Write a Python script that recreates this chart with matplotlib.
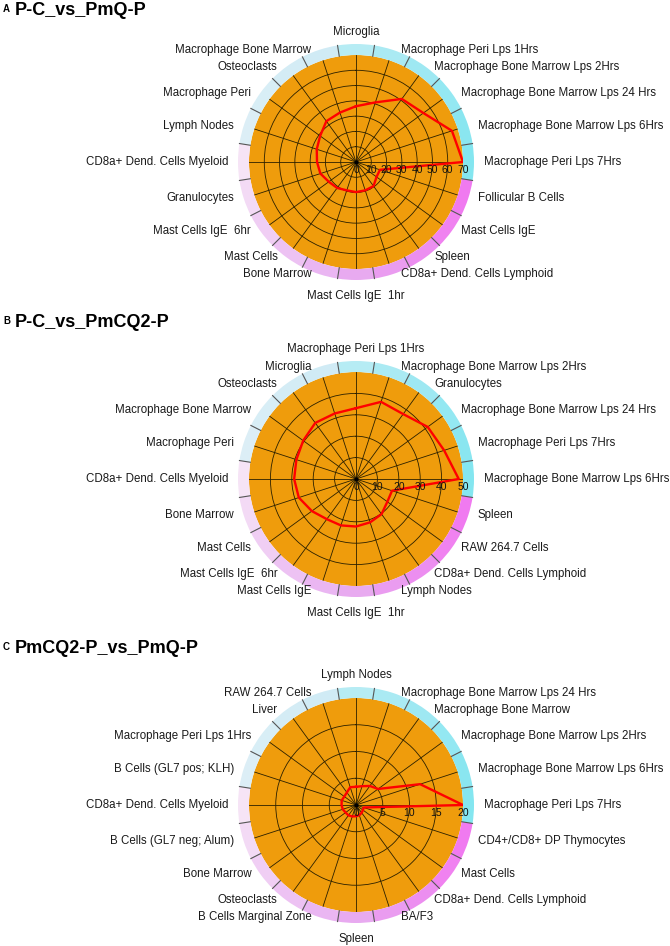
import numpy as np
import matplotlib
matplotlib.use('Agg')
import matplotlib.pyplot as plt

plt.rcParams['font.family'] = ['Liberation Sans', 'DejaVu Sans']

# panel A
cats_a = ["Microglia", "Macrophage Peri Lps 1Hrs", "Macrophage Bone Marrow Lps 2Hrs",
          "Macrophage Bone Marrow Lps 24 Hrs", "Macrophage Bone Marrow Lps 6Hrs",
          "Macrophage Peri Lps 7Hrs", "Follicular B Cells", "Mast Cells IgE", "Spleen",
          "CD8a+ Dend. Cells Lymphoid", "Mast Cells IgE  1hr", "Bone Marrow", "Mast Cells",
          "Mast Cells IgE  6hr", "Granulocytes", "CD8a+ Dend. Cells Myeloid", "Lymph Nodes",
          "Macrophage Peri", "Osteoclasts", "Macrophage Bone Marrow"]
vals_a = [36.5, 41, 51, 54.5, 66, 70, 16.5, 16.6, 19.5, 19.5, 19.7, 19.5, 21, 22,
          24.5, 25.5, 27, 29, 33, 34]
ticks_a = [0, 10, 20, 30, 40, 50, 60, 70]

# panel B
cats_b = ["Macrophage Peri Lps 1Hrs", "Macrophage Bone Marrow Lps 2Hrs", "Granulocytes",
          "Macrophage Bone Marrow Lps 24 Hrs", "Macrophage Peri Lps 7Hrs",
          "Macrophage Bone Marrow Lps 6Hrs", "Spleen", "RAW 264.7 Cells",
          "CD8a+ Dend. Cells Lymphoid", "Lymph Nodes", "Mast Cells IgE  1hr", "Mast Cells IgE",
          "Mast Cells IgE  6hr", "Mast Cells", "Bone Marrow", "CD8a+ Dend. Cells Myeloid",
          "Macrophage Peri", "Macrophage Bone Marrow", "Osteoclasts", "Microglia"]
vals_b = [33.1, 37.9, 37.5, 41.4, 43.3, 48, 17.7, 18.1, 20.3, 21.3, 22.2, 22.8, 23.2,
          25.5, 28.1, 28.9, 29.3, 30.5, 32.4, 32.2]
ticks_b = [0, 10, 20, 30, 40, 50]

# panel C
cats_c = ["Lymph Nodes", "Macrophage Bone Marrow Lps 24 Hrs", "Macrophage Bone Marrow",
          "Macrophage Bone Marrow Lps 2Hrs", "Macrophage Bone Marrow Lps 6Hrs",
          "Macrophage Peri Lps 7Hrs", "CD4+/CD8+ DP Thymocytes", "Mast Cells",
          "CD8a+ Dend. Cells Lymphoid", "BA/F3", "Spleen", "B Cells Marginal Zone",
          "Osteoclasts", "Bone Marrow", "B Cells (GL7 neg; Alum)", "CD8a+ Dend. Cells Myeloid",
          "B Cells (GL7 pos; KLH)", "Macrophage Peri Lps 1Hrs", "Liver", "RAW 264.7 Cells"]
vals_c = [3.4, 3.7, 4.4, 5.1, 12.6, 20, 1.5, 1.6, 1.8, 2.0, 2.1, 2.25, 2.4, 2.4, 2.6,
          2.7, 2.8, 2.7, 2.9, 3.5]
ticks_c = [0, 5, 10, 15, 20]

# outer ring colours, one per segment (same order in every panel)
ring_cols = ['#b6ecf4', '#aaeaf3', '#9ee8f2', '#94e8f2', '#8ae6f0', '#84e6f0',
             '#f07af0', '#f082f0', '#ec8ef0', '#ea9cf0', '#e8aaf0', '#eab6f2',
             '#edc2f3', '#f0cef4', '#f3daf5', '#f6e4f6', '#dceef6', '#d8eef6',
             '#d4ecf5', '#d0ebf5']

W, H = 670, 946
fig = plt.figure(figsize=(W / 100, H / 100), dpi=100)

R = 107  # disk radius in pixels


def radar(cy, cats, vals, ticks, letter, title, ty):
    ax = fig.add_axes([(356 - R) / W, (H - cy - R) / H, 2 * R / W, 2 * R / H],
                      projection='polar')
    n = len(cats)
    th = np.arange(n) * 2 * np.pi / n
    vmax = ticks[-1]
    ax.set_theta_zero_location('N')
    ax.set_theta_direction(-1)
    ax.set_ylim(0, vmax)
    ax.set_facecolor('#ef9c0c')
    ax.spines['polar'].set_visible(False)
    ax.set_xticks(th)
    ax.set_xticklabels([])
    ax.set_yticks(ticks[1:-1])
    ax.set_yticklabels([])
    ax.tick_params(length=0)
    ax.grid(True, color='#2b2000', lw=0.6)

    # coloured ring outside the disk
    ring_h = vmax * 11 / R
    ax.bar(th, ring_h, width=2 * np.pi / n, bottom=vmax, color=ring_cols,
           edgecolor='none', clip_on=False, zorder=0)
    for t in th + np.pi / n:
        ax.plot([t, t], [vmax, vmax + ring_h], color='#555555', lw=0.8, clip_on=False)

    ax.plot(np.append(th, th[0]), np.append(vals, vals[0]), color='#ff0000', lw=1.7,
            zorder=5)
    ax.plot(0, 0, 'o', color='black', ms=2, zorder=6)

    for t in ticks:
        ax.annotate(str(t), xy=(np.pi / 2, t), xytext=(0, -8), textcoords='offset pixels',
                    ha='center', va='center', fontsize=7.5, color='#111111', zorder=7)

    for i, c in enumerate(cats):
        a = np.pi / 2 - th[i]
        ca, sa = np.cos(a), np.sin(a)
        if abs(ca) < 0.05:
            ha = 'center'
            if sa > 0:
                off, va = (0, 124), 'bottom'
            else:
                off, va = (0, -128), 'top'
        else:
            ha = 'left' if ca > 0 else 'right'
            va = 'center'
            off = (128 * ca + 6 * np.sign(ca) * abs(sa) ** 3, 118 * sa)
        ax.annotate(c, xy=(0, 0), xytext=off, textcoords='offset pixels', ha=ha, va=va,
                    fontsize=8.3, color='#1a1a1a', annotation_clip=False)

    fig.text(3 / W, 1 - (ty - 3) / H, letter, fontsize=7, fontweight='bold', va='baseline')
    fig.text(15 / W, 1 - ty / H, title, fontsize=13, fontweight='bold', va='baseline')


radar(162, cats_a, vals_a, ticks_a, 'A', 'P-C_vs_PmQ-P', 15)
radar(479, cats_b, vals_b, ticks_b, 'B', 'P-C_vs_PmCQ2-P', 327)
radar(805, cats_c, vals_c, ticks_c, 'C', 'PmCQ2-P_vs_PmQ-P', 653)

fig.savefig('out.png', dpi=100)
